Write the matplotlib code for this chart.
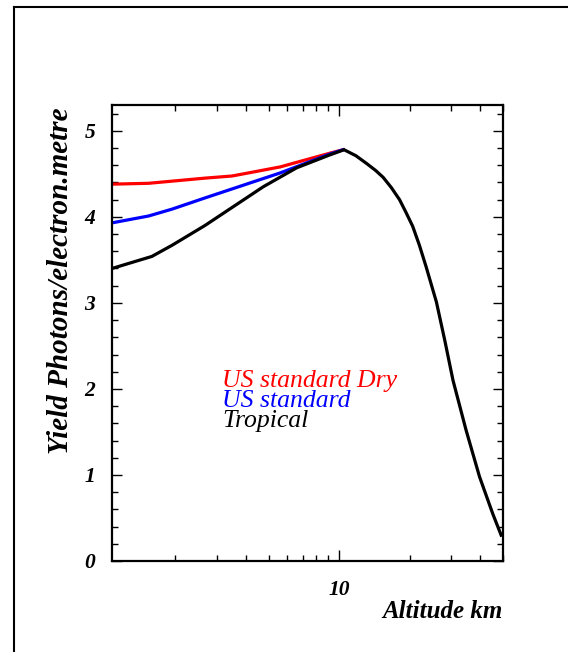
import matplotlib
matplotlib.use("Agg")
import matplotlib.pyplot as plt
from matplotlib.ticker import LogLocator, FixedLocator, NullFormatter, FixedFormatter, MultipleLocator
from matplotlib.lines import Line2D

# curves (altitude km, yield)
dry_alt = [1.075, 1.54, 1.94, 2.68, 3.5, 5.6, 9.13, 10.4]
dry_yield = [4.38, 4.39, 4.415, 4.45, 4.475, 4.58, 4.74, 4.78]

us_alt = [1.075, 1.54, 1.94, 2.68, 3.5, 5.6, 9.13, 10.4]
us_yield = [3.93, 4.01, 4.09, 4.22, 4.325, 4.51, 4.73, 4.78]

trop_alt = [1.075, 1.59, 1.94, 2.68, 3.5, 4.75, 6.59, 9.13, 10.5, 11.8, 13.1, 14.3,
            15.4, 16.7, 18.1, 19.3, 20.6, 22.0, 23.5, 26.0, 28.2, 30.6, 34.8, 39.7,
            45.2, 49.1]
trop_yield = [3.40, 3.54, 3.67, 3.90, 4.11, 4.35, 4.57, 4.72, 4.78, 4.71, 4.62, 4.54,
              4.46, 4.34, 4.20, 4.05, 3.89, 3.67, 3.42, 3.01, 2.57, 2.10, 1.52, 0.98,
              0.55, 0.30]

series_names = ["US standard Dry", "US standard", "Tropical"]
series_colors = ["#ff0000", "#0000ff", "#000000"]
y_ticks = [0, 1, 2, 3, 4, 5]

W, H = 568, 652
fig = plt.figure(figsize=(W / 100, H / 100), dpi=100)
fig.patch.set_facecolor("white")

def fx(px):
    return px / W

def fy(py):
    return 1 - py / H

ax = fig.add_axes([fx(112), fy(561), fx(503) - fx(112), fy(105) - fy(561)])
ax.set_xscale("log")
ax.set_xlim(1.075, 50)
ax.set_ylim(0, 5.3)

for (a, v), c in zip([(dry_alt, dry_yield), (us_alt, us_yield), (trop_alt, trop_yield)], series_colors):
    ax.plot(a, v, color=c, lw=2.3, solid_joinstyle="round")

serif = "Liberation Serif"

# axes frame and ticks
for s in ax.spines.values():
    s.set_linewidth(1.6)
ax.xaxis.set_major_locator(FixedLocator([10]))
ax.xaxis.set_major_formatter(FixedFormatter(["10"]))
ax.xaxis.set_minor_locator(LogLocator(base=10, subs=[2, 3, 4, 5, 6, 7, 8, 9], numticks=20))
ax.xaxis.set_minor_formatter(NullFormatter())
ax.yaxis.set_major_locator(FixedLocator(y_ticks))
ax.yaxis.set_minor_locator(MultipleLocator(0.2))
ax.tick_params(which="both", direction="in", top=True, right=True, width=1.0)
ax.tick_params(which="major", length=7)
ax.tick_params(which="minor", length=4)
ax.tick_params(axis="x", which="major", length=8, pad=14)
ax.tick_params(axis="y", which="major", pad=12)
for lab in ax.get_xticklabels() + ax.get_yticklabels():
    lab.set_fontfamily(serif)
    lab.set_fontstyle("italic")
    lab.set_fontweight("bold")
    lab.set_fontsize(15.5)

# axis titles
fig.text(fx(503), fy(612), "Altitude km", ha="right", va="center",
         fontfamily=serif, fontstyle="italic", fontweight="bold", fontsize=18)
fig.text(fx(61), fy(281), "Yield Photons/electron.metre", ha="center", va="center",
         rotation=90, fontfamily=serif, fontstyle="italic", fontweight="bold", fontsize=21)

# legend text
for name, c, base in zip(series_names, series_colors, [387, 407, 427]):
    fig.text(fx(222), fy(base), name, ha="left", va="baseline", color=c,
             fontfamily=serif, fontstyle="italic", fontsize=18.5)

# canvas border (top and left)
fig.add_artist(Line2D([fx(14), 1], [fy(7), fy(7)], transform=fig.transFigure, color="black", lw=1.5))
fig.add_artist(Line2D([fx(14), fx(14)], [fy(7), 0], transform=fig.transFigure, color="black", lw=1.5))

fig.savefig("out.png", dpi=100)
